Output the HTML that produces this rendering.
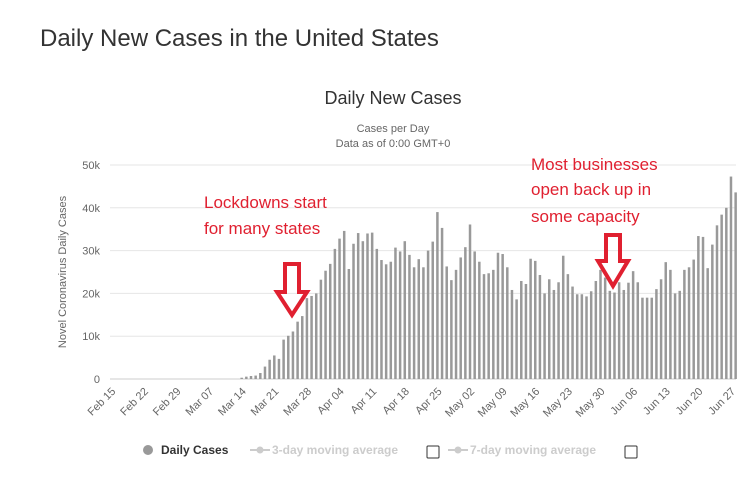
<!DOCTYPE html>
<html><head><meta charset="utf-8"><style>
body{margin:0;background:#fff;width:753px;height:480px;overflow:hidden;font-family:"Liberation Sans",sans-serif}
svg{display:block}
</style></head><body>
<svg width="753" height="480">
<text x="40" y="46" font-size="24" fill="#333">Daily New Cases in the United States</text>
<text x="393" y="104" font-size="18" fill="#333" text-anchor="middle">Daily New Cases</text>
<text x="393" y="132" font-size="11" fill="#666" text-anchor="middle">Cases per Day</text>
<text x="393" y="147" font-size="11" fill="#666" text-anchor="middle">Data as of 0:00 GMT+0</text>
<text transform="translate(66,272) rotate(-90)" font-size="11" fill="#666" text-anchor="middle">Novel Coronavirus Daily Cases</text>
<g id="grid"></g><g id="bars"></g><g id="xlabels"></g>
<g fill="#e02030" font-size="17">
<text x="204" y="208">Lockdowns start</text><text x="204" y="234">for many states</text></g>
<g fill="#e02030" font-size="17">
<text x="531" y="170">Most businesses</text><text x="531" y="195">open back up in</text><text x="531" y="222">some capacity</text></g>
<path d="M285,264 H299 V292 H307 L292,315 L277,292 H285 Z" fill="none" stroke="#e02030" stroke-width="4"/>
<path d="M606,235 H620 V261 H628 L613,286 L598,261 H606 Z" fill="none" stroke="#e02030" stroke-width="4"/>
<g font-size="12">
<circle cx="148" cy="450" r="5" fill="#999"/>
<text x="161" y="454" font-weight="bold" fill="#333">Daily Cases</text>
<line x1="250" y1="450" x2="270" y2="450" stroke="#ccc" stroke-width="2"/><circle cx="260" cy="450" r="3.5" fill="#ccc"/>
<text x="272" y="454" font-weight="bold" fill="#ccc">3-day moving average</text>
<rect x="427" y="446" width="12" height="12" fill="#fff" stroke="#333" rx="1"/>
<line x1="448" y1="450" x2="468" y2="450" stroke="#ccc" stroke-width="2"/><circle cx="458" cy="450" r="3.5" fill="#ccc"/>
<text x="470" y="454" font-weight="bold" fill="#ccc">7-day moving average</text>
<rect x="625" y="446" width="12" height="12" fill="#fff" stroke="#333" rx="1"/>
</g>
</svg>
<script>
const yTicks=[0,10000,20000,30000,40000,50000];
const yTickLabels=["0","10k","20k","30k","40k","50k"];
const xTickLabels=["Feb 15","Feb 22","Feb 29","Mar 07","Mar 14","Mar 21","Mar 28","Apr 04","Apr 11","Apr 18","Apr 25","May 02","May 09","May 16","May 23","May 30","Jun 06","Jun 13","Jun 20","Jun 27"];
const leadingZeros=[0,0,0,0,0,0,0,0,0,0,0,0,0,0,0,0,0,0,0,0,0,0,0,0,0,0,0,0];
const dailyCases=[300,550,700,800,1400,2900,4500,5500,4700,9200,10100,11100,13400,14700,18900,19400,20000,23200,25300,26900,30400,32800,34600,25700,31600,34100,32200,34000,34200,30400,27800,26800,27400,30700,29800,32200,29000,26100,28000,26100,30000,32100,39000,35300,26300,23100,25500,28400,30800,36100,29800,27400,24500,24700,25500,29500,29200,26100,20800,18600,22900,22200,28100,27600,24300,20000,23300,20800,22600,28800,24500,21600,19800,19800,19300,20500,22900,25500,23700,20600,20200,22600,20800,22500,25200,22600,19000,19000,19000,21000,23300,27300,25500,20000,20600,25500,26100,27900,33400,33200,25900,31400,35900,38400,40000,47300,43600];
const values=leadingZeros.concat(dailyCases);
const NS='http://www.w3.org/2000/svg';
const y0=379,yMax=50000,plotH=214,x0=111.2,dx=4.66;
const yS=v=>y0-v/yMax*plotH, xS=i=>x0+i*dx;
const grid=document.getElementById('grid');
yTicks.forEach((t,i)=>{
 const l=document.createElementNS(NS,'line');
 l.setAttribute('x1',110);l.setAttribute('x2',736);l.setAttribute('y1',yS(t));l.setAttribute('y2',yS(t));
 l.setAttribute('stroke',i==0?'#ccc':'#e6e6e6');
 
 
 grid.appendChild(l);
 const tx=document.createElementNS(NS,'text');
 tx.setAttribute('x',100);tx.setAttribute('y',yS(t)+4);tx.setAttribute('text-anchor','end');
 tx.setAttribute('font-size','11');tx.setAttribute('fill','#666');tx.textContent=yTickLabels[i];
 
 
 grid.appendChild(tx);
});
const bars=document.getElementById('bars');
values.forEach((v,i)=>{
 if(v<=0)return;
 const r=document.createElementNS(NS,'rect');
 r.setAttribute('x',xS(i)-1.25);r.setAttribute('width',2.5);
 r.setAttribute('y',yS(v));r.setAttribute('height',y0-yS(v));r.setAttribute('fill','#999');
 
 
 bars.appendChild(r);
});
const xl=document.getElementById('xlabels');
xTickLabels.forEach((s,i)=>{
 const x=xS(i*7);
 const t=document.createElementNS(NS,'text');
 t.setAttribute('transform','translate('+(x+5)+',392) rotate(-45)');
 t.setAttribute('text-anchor','end');t.setAttribute('font-size','11');t.setAttribute('fill','#666');
 t.textContent=s;
 
 
 xl.appendChild(t);
});
</script>
</body></html>
